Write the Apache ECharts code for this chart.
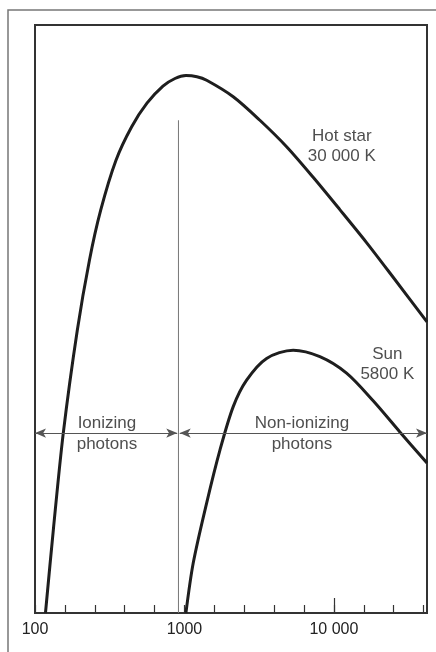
<!DOCTYPE html>
<html>
<head>
<meta charset="utf-8">
<title>Hot star vs Sun</title>
<script src="https://cdn.jsdelivr.net/npm/echarts@6/dist/echarts.min.js"></script>
<style>
  html, body { margin: 0; padding: 0; background: #fff; }
  #chart { width: 436px; height: 652px; }
</style>
</head>
<body>
<div id="chart"></div>
<script>
// wavelength (Angstrom) and relative intensity
const hotStarX = [117.5, 132.6, 154.6, 191.9, 231.4, 275.2, 348.3, 443.6, 561.4, 718.2, 864.3, 1023, 1212, 1408, 2121, 3199, 4827, 7269, 10966, 16544, 24929, 42000]
const hotStarY = [0, 14.1, 30.6, 48.1, 60.0, 68.5, 77.0, 82.7, 86.7, 89.6, 90.9, 91.4, 91.2, 90.6, 87.8, 83.8, 79.3, 74.1, 68.6, 63.0, 57.1, 49.5]
const sunX = [1023, 1145, 1408, 1728, 2121, 2607, 3547, 5343, 8061, 12160, 18320, 27640, 42000]
const sunY = [0, 8.5, 18.7, 27.7, 35.1, 39.6, 43.3, 44.7, 43.6, 40.8, 36.1, 30.8, 25.5]

// axis
const minorTicks = [100, 158.5, 251.2, 398.1, 631, 1000, 1585, 2512, 3981, 6310, 10000, 15849, 25119, 39811]
const majorTicks = [10000]
const tickLabels = [100, 1000, 10000]

// divider at the ionization limit and the arrows
const lymanLimit = 912
const dividerTop = 83.8
const arrowLevel = 30.6
const ionizingArrow = [100, 895]
const nonIonizingArrow = [930, 42000]

// text notes: [x, y, text]
const curveNotes = [
  [11300, 79.4, 'Hot star\n30 000 K'],
  [22800, 42.3, 'Sun\n5800 K']
]
const photonNotes = [
  [303, 30.4, 'Ionizing\nphotons'],
  [6110, 30.4, 'Non-ionizing\nphotons']
]

const toPairs = (xs, ys) => xs.map((x, i) => [x, ys[i]])
const font = "'Liberation Sans', Arial, sans-serif"
const ink = '#1e1e1e'

const arrowEnd = (x) => ({ coord: [x, arrowLevel], symbol: 'arrow', symbolSize: [7, 11] })

let chart = echarts.init(document.getElementById('chart'))
chart.setOption({
  animation: false,
  textStyle: { fontFamily: font },
  grid: {
    left: 35,
    right: 9,
    top: 25,
    bottom: 39,
    show: true,
    borderColor: '#333',
    borderWidth: 2,
    outerBoundsMode: 'none'
  },
  xAxis: [
    {
      type: 'log',
      logBase: 10,
      min: 100,
      max: 42000,
      position: 'bottom',
      axisLine: { show: false },
      splitLine: { show: false },
      axisTick: {
        show: true,
        inside: true,
        length: 8,
        customValues: minorTicks,
        lineStyle: { color: '#333', width: 1.2 }
      },
      axisLabel: {
        customValues: tickLabels,
        margin: 9,
        fontSize: 16,
        color: '#222',
        fontFamily: font,
        formatter: (v) => {
          const n = Math.round(v)
          return n >= 10000 ? String(n).replace(/(\d+)(\d{3})$/, '$1 $2') : String(n)
        }
      }
    },
    {
      type: 'log',
      logBase: 10,
      min: 100,
      max: 42000,
      position: 'bottom',
      axisLine: { show: false },
      splitLine: { show: false },
      axisLabel: { show: false },
      axisTick: {
        show: true,
        inside: true,
        length: 15,
        customValues: majorTicks,
        lineStyle: { color: '#333', width: 1.2 }
      }
    }
  ],
  yAxis: {
    type: 'value',
    min: 0,
    max: 100,
    show: false
  },
  series: [
    {
      // ionization limit + arrows
      type: 'line',
      z: 1,
      silent: true,
      symbol: 'none',
      data: [[lymanLimit, 0], [lymanLimit, dividerTop]],
      lineStyle: { color: '#777', width: 1 },
      markLine: {
        silent: true,
        label: { show: false },
        lineStyle: { color: '#555', width: 1, type: 'solid' },
        data: [
          [arrowEnd(ionizingArrow[0]), arrowEnd(ionizingArrow[1])],
          [arrowEnd(nonIonizingArrow[0]), arrowEnd(nonIonizingArrow[1])]
        ]
      }
    },
    {
      name: 'Hot star',
      type: 'line',
      z: 3,
      smooth: 0.3,
      symbol: 'none',
      data: toPairs(hotStarX, hotStarY),
      lineStyle: { color: ink, width: 3 }
    },
    {
      name: 'Sun',
      type: 'line',
      z: 3,
      smooth: 0.3,
      symbol: 'none',
      data: toPairs(sunX, sunY),
      lineStyle: { color: ink, width: 3 }
    },
    {
      type: 'scatter',
      z: 4,
      silent: true,
      symbolSize: 0,
      data: curveNotes,
      label: {
        show: true,
        position: 'inside',
        formatter: (p) => p.data[2],
        fontSize: 17,
        lineHeight: 20,
        align: 'center',
        color: '#222',
        fontFamily: font
      }
    },
    {
      type: 'scatter',
      z: 2,
      silent: true,
      symbolSize: 0,
      data: photonNotes,
      label: {
        show: true,
        position: 'inside',
        formatter: (p) => p.data[2],
        fontSize: 17,
        lineHeight: 21,
        align: 'center',
        color: '#222',
        fontFamily: font,
        backgroundColor: '#fff',
        padding: [0, 5]
      }
    }
  ],
  graphic: [
    {
      type: 'polyline',
      silent: true,
      shape: { points: [[8, 652], [8, 10], [436, 10]] },
      style: { stroke: '#777', lineWidth: 1.5, fill: null }
    }
  ]
})
</script>
</body>
</html>
